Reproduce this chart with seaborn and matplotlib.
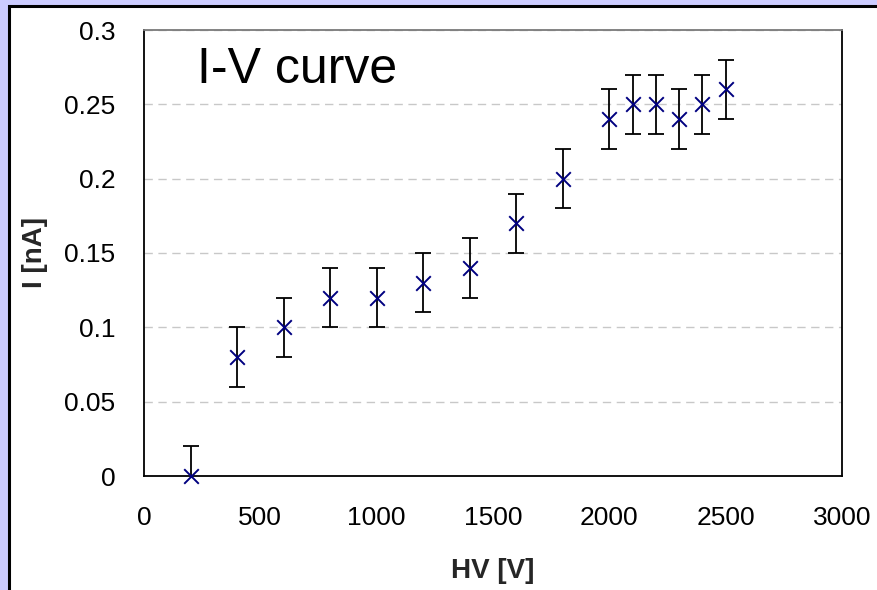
import matplotlib
matplotlib.use("Agg")
import matplotlib.pyplot as plt
from matplotlib.patches import Rectangle
import seaborn as sns
import pandas as pd

# Measured I-V characteristic
hv_volts = [200, 400, 600, 800, 1000, 1200, 1400, 1600, 1800, 2000, 2100, 2200, 2300, 2400, 2500]
current_na = [0.0, 0.08, 0.10, 0.12, 0.12, 0.13, 0.14, 0.17, 0.20, 0.24, 0.25, 0.25, 0.24, 0.25, 0.26]
current_err = [0.02] * len(hv_volts)

x_ticks = [0, 500, 1000, 1500, 2000, 2500, 3000]
y_ticks = [0, 0.05, 0.1, 0.15, 0.2, 0.25, 0.3]
y_tick_labels = ["0", "0.05", "0.1", "0.15", "0.2", "0.25", "0.3"]

df = pd.DataFrame({"HV": hv_volts, "I": current_na, "err": current_err})

sns.set_style("white")
plt.rcParams["font.family"] = ["Liberation Sans", "DejaVu Sans"]

fig = plt.figure(figsize=(8.78, 5.90), dpi=100)
fig.patch.set_facecolor("#CCCCFF")

# white chart panel with dark frame
panel = Rectangle((9.5 / 878, -0.05), 1.2, 1 - 5.5 / 590 + 0.05,
                  transform=fig.transFigure, facecolor="white",
                  edgecolor="black", linewidth=2.2, zorder=0)
fig.add_artist(panel)

ax = fig.add_axes([144 / 878, 1 - 476 / 590, (842 - 144) / 878, (476 - 30) / 590])
ax.set_facecolor("white")
ax.set_zorder(1)

ax.errorbar(df["HV"], df["I"], yerr=df["err"], fmt="none", ecolor="black",
            elinewidth=1.3, capsize=5.8, capthick=1.3, zorder=3)
sns.scatterplot(data=df, x="HV", y="I", marker="x", color="#000080", s=110,
                linewidth=1.4, ax=ax, zorder=4, legend=False, clip_on=False)

ax.set_xlim(0, 3000)
ax.set_ylim(0, 0.3)
ax.set_xticks(x_ticks)
ax.set_xticklabels([str(t) for t in x_ticks])
ax.set_yticks(y_ticks)
ax.set_yticklabels(y_tick_labels)
ax.tick_params(axis="both", which="major", labelsize=19, direction="out",
               length=6.5, width=1, color="#404040", labelcolor="black")
ax.tick_params(axis="x", pad=15)
ax.tick_params(axis="y", pad=14)

ax.yaxis.grid(True, linestyle=(0, (6, 4)), color="#C8C8C8", linewidth=1)
ax.xaxis.grid(False)
ax.set_axisbelow(True)

for side in ["left", "bottom", "right"]:
    ax.spines[side].set_color("black")
    ax.spines[side].set_linewidth(1.3)
ax.spines["top"].set_color("#7A7A7A")
ax.spines["top"].set_linewidth(1.3)

ax.set_xlabel("HV [V]", fontsize=20, fontweight="bold", labelpad=20)
ax.set_ylabel("I [nA]", fontsize=20, fontweight="bold", labelpad=12)

ax.text(228, 0.2645, "I-V curve", fontsize=36, color="black", ha="left",
        va="baseline", zorder=5)

fig.savefig("out.png", dpi=100, facecolor=fig.get_facecolor())
